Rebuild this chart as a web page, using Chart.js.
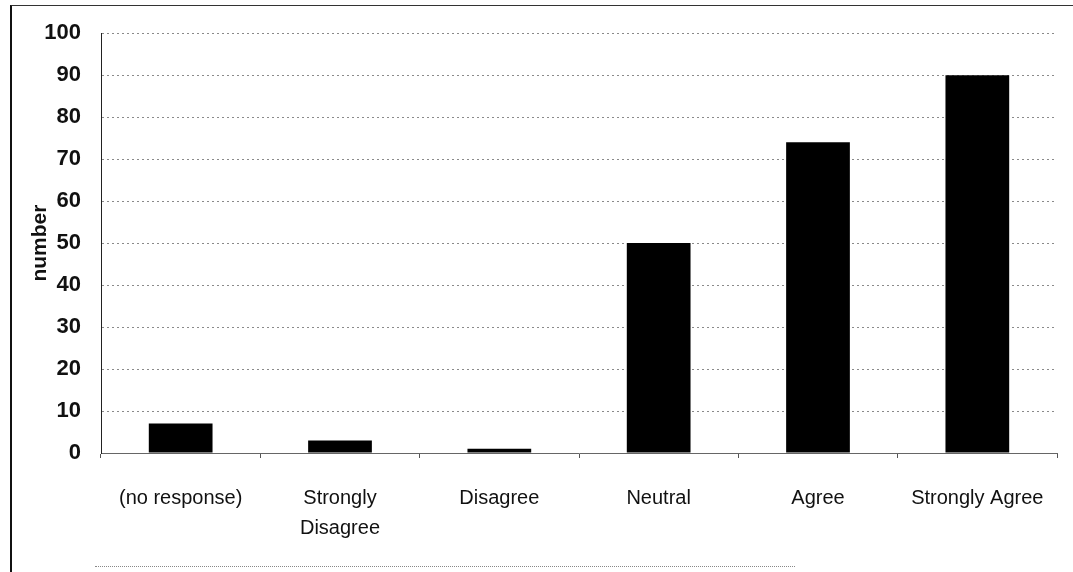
<!DOCTYPE html>
<html>
<head>
<meta charset="utf-8">
<script src="https://cdn.jsdelivr.net/npm/chart.js@4.4.0/dist/chart.umd.min.js"></script>
<style>
  html, body { margin: 0; padding: 0; background: #fff; }
  #wrap { position: relative; width: 1073px; height: 572px; }
  #frame { position: absolute; left: 10px; top: 5px; width: 1063px; height: 567px;
           border-left: 2px solid #111; border-top: 1px solid #333; box-sizing: border-box; pointer-events: none; }
  #bottomline { position: absolute; left: 95px; top: 566px; width: 700px; border-top: 1px dotted #888; }
  canvas { position: absolute; left: 0; top: 0; }
</style>
</head>
<body>
<div id="wrap">
  <canvas id="chart1" width="1073" height="572"></canvas>
  <div id="frame"></div>
  <div id="bottomline"></div>
</div>
<script>
// categories and values
var categories = ['(no response)', ['Strongly', 'Disagree'], 'Disagree', 'Neutral', 'Agree', 'Strongly Agree'];
var counts = [7, 3, 1, 50, 74, 90];
var yTicks = [0, 10, 20, 30, 40, 50, 60, 70, 80, 90, 100];

var config = {
  type: 'bar',
  data: {
    labels: categories,
    datasets: [{
      label: 'number',
      data: counts,
      backgroundColor: '#000',
      borderWidth: 0,
      categoryPercentage: 1,
      barPercentage: 0.4
    }]
  },
  options: {
    responsive: false,
    animation: false,
    layout: { padding: { left: 0, top: 33, right: 16, bottom: 0 } },
    plugins: {
      legend: { display: false },
      tooltip: { enabled: false }
    },
    scales: {
      x: {
        grid: {
          display: true,
          drawOnChartArea: false,
          tickLength: 5,
          color: '#555'
        },
        border: { display: true, color: '#666' },
        ticks: {
          color: '#111',
          padding: 25,
          maxRotation: 0,
          autoSkip: false,
          font: { family: 'Liberation Sans, Arial, sans-serif', size: 20, lineHeight: 1.5 }
        },
        afterFit: function (scale) { scale.height = 119; }
      },
      y: {
        min: 0,
        max: 100,
        afterBuildTicks: function (scale) {
          scale.ticks = yTicks.map(function (v) { return { value: v }; });
        },
        grid: {
          color: '#8a8a8a',
          lineWidth: 1,
          tickLength: 0
        },
        // in v4 border.dash styles the grid lines (dotted like the scan)
        border: { display: true, color: '#222', dash: [2, 3] },
        ticks: {
          color: '#111',
          padding: 20,
          font: { family: 'Liberation Sans, Arial, sans-serif', size: 22, weight: 'bold' }
        },
        title: {
          display: true,
          text: 'number',
          color: '#111',
          padding: { top: 28, bottom: 0 },
          font: { family: 'Liberation Sans, Arial, sans-serif', size: 21, weight: 'bold' }
        },
        afterFit: function (scale) { scale.width = 101; }
      }
    }
  }
};

var ctx = document.getElementById('chart1').getContext('2d');
var chart1 = new Chart(ctx, config);
</script>
</body>
</html>
